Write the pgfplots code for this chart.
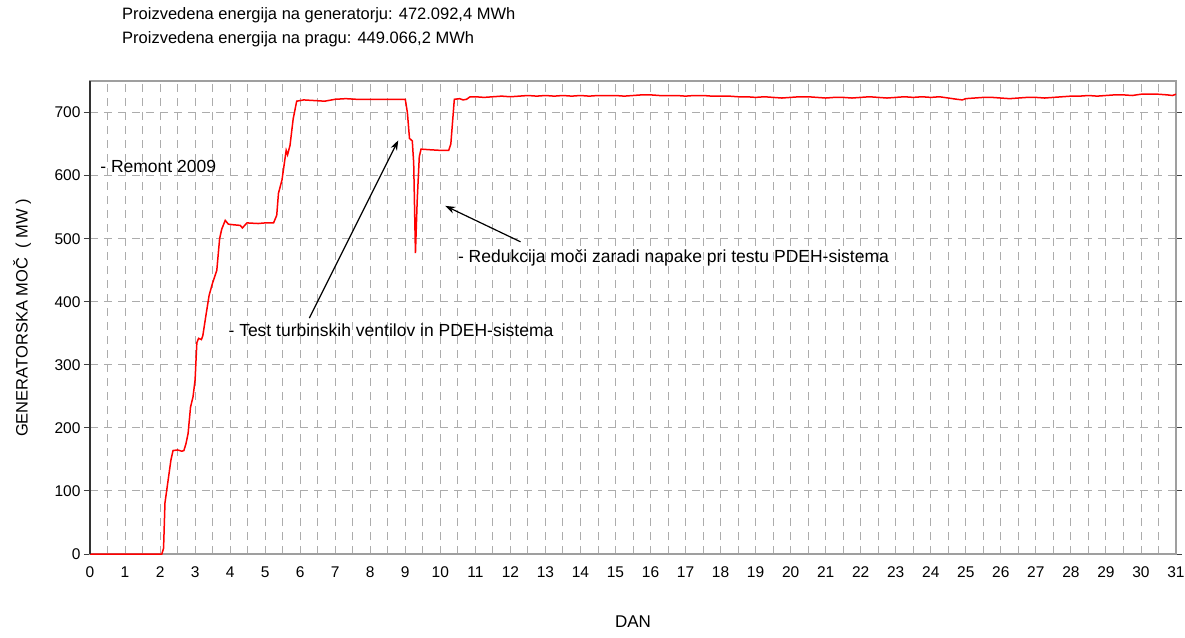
\documentclass[border=0pt]{standalone}
\usepackage{fontspec}
\setmainfont{Liberation Sans}
\usepackage{pgfplots}
\pgfplotsset{compat=1.18}
\usetikzlibrary{arrows.meta}
\pgfplotstableread{
x y
0 0
2.05 0
2.10 9
2.14 81
2.19 101
2.25 125
2.31 149
2.37 164
2.50 165
2.62 163
2.68 164
2.74 175
2.80 191
2.87 233
2.94 249
3.00 276
3.05 335
3.10 342
3.18 340
3.22 346
3.30 375
3.40 410
3.50 430
3.62 450
3.70 500
3.76 515
3.86 529
3.95 523
4.10 522
4.29 521
4.35 517
4.48 525
4.80 524
5.00 525
5.24 525
5.33 537
5.38 572
5.48 593
5.60 640
5.64 633
5.71 648
5.80 690
5.90 718
6.10 720
6.40 719
6.70 718
7.00 721
7.30 722
7.60 721
8.00 721
8.40 721
8.80 721
9.00 721
9.06 700
9.12 659
9.20 655
9.24 620
9.29 477
9.34 560
9.40 630
9.45 642
9.70 641
10.00 640
10.24 640
10.30 650
10.40 721
10.55 722
10.65 720
10.75 721
10.85 725
11.00 725
11.25 724
11.50 725
11.75 726
12.00 725
12.25 726
12.50 727
12.75 726
13.00 727
13.25 726
13.50 727
13.75 726
14.00 727
14.25 726
14.50 727
14.75 727
15.00 727
15.25 726
15.50 727
15.75 728
16.00 728
16.25 727
16.50 727
16.75 727
17.00 726
17.25 727
17.50 727
17.75 726
18.00 726
18.25 726
18.50 725
18.75 725
19.00 724
19.25 725
19.50 724
19.75 723
20.00 724
20.25 725
20.50 725
20.75 724
21.00 723
21.25 724
21.50 724
21.75 723
22.00 724
22.25 725
22.50 724
22.75 723
23.00 724
23.25 725
23.50 724
23.75 725
24.00 724
24.25 725
24.50 723
24.75 721
24.90 720
25.00 722
25.25 723
25.50 724
25.75 724
26.00 723
26.25 722
26.50 723
26.75 724
27.00 724
27.25 723
27.50 724
27.75 725
28.00 726
28.25 726
28.50 727
28.75 726
29.00 727
29.25 728
29.50 728
29.75 727
30.00 729
30.25 729
30.50 729
30.75 728
30.90 727
31.00 729
}\power
\begin{document}
\begin{tikzpicture}[x=1pt,y=1pt]
\path[use as bounding box] (-90,-83) rectangle (1095,554);
\begin{axis}[
  at={(0,0)}, anchor=south west,
  scale only axis, width=1086pt, height=473pt,
  xmin=0, xmax=31, ymin=0, ymax=750,
  xtick={0,...,31}, ytick={0,100,...,700},
  minor x tick num=1,
  grid=both,
  major grid style={gray!65, dash pattern=on 8pt off 6pt, line width=0.9pt},
  minor grid style={gray!65, dash pattern=on 8pt off 6pt, line width=0.9pt},
  xtick style={draw=none}, minor tick style={draw=none},
  ytick style={black!75, line width=1pt},
  tick align=outside, major tick length=6pt,
  axis line style={gray!75, line width=1.5pt},
  tick label style={font=\fontsize{15.5}{18}\selectfont, /pgf/number format/assume math mode=true},
  xticklabel style={yshift=-3pt},
  clip=false,
]
\addplot[red, line width=1.5pt] table[x=x,y=y] {\power};
\draw[black!80, line width=1.8pt] (rel axis cs:0,0) -- (rel axis cs:0,1);
\node[anchor=west, inner sep=0pt, font=\fontsize{17.5}{20}\selectfont] at (axis cs:0.29,614) {- Remont 2009};
\node[anchor=west, inner sep=0pt, font=\fontsize{17.5}{20}\selectfont] at (axis cs:3.95,354) {- Test turbinskih ventilov in PDEH-sistema};
\node[anchor=west, inner sep=0pt, font=\fontsize{17.5}{20}\selectfont] at (axis cs:10.5,469) {- Redukcija moči zaradi napake pri testu PDEH-sistema};
\draw[-{Stealth[length=10pt,width=7pt]}, line width=1.2pt] (axis cs:6.26,374) -- (axis cs:8.8,656);
\draw[-{Stealth[length=10pt,width=7pt]}, line width=1.2pt] (axis cs:12.29,495) -- (axis cs:10.14,552);
\end{axis}
\node[anchor=west, inner sep=0pt, font=\fontsize{16.5}{19}\selectfont] at (32,539) {Proizvedena energija na generatorju: 472.092,4 MWh};
\node[anchor=west, inner sep=0pt, font=\fontsize{16.5}{19}\selectfont] at (32,515) {Proizvedena energija na pragu: 449.066,2 MWh};
\node[rotate=90, font=\fontsize{16.5}{19}\selectfont] at (-68,236) {GENERATORSKA MOČ\ \ ( MW )};
\node[font=\fontsize{17}{19}\selectfont] at (543,-68) {DAN};
\end{tikzpicture}
\end{document}
